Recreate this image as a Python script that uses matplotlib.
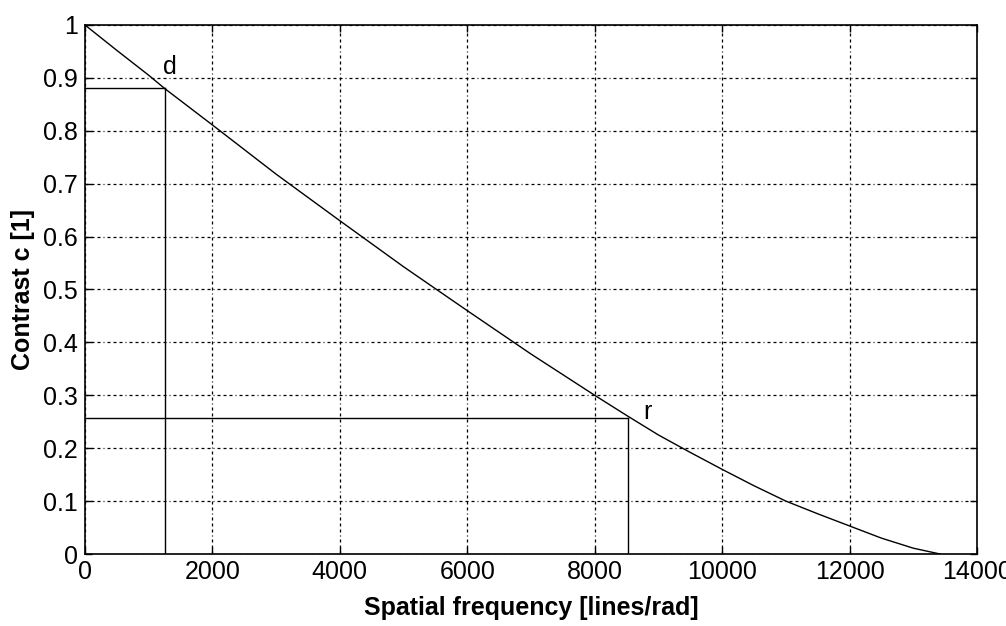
import matplotlib
matplotlib.use("Agg")
import matplotlib.pyplot as plt

# Curve values
freq = [0, 500, 1000, 1250, 2000, 3000, 4000, 5000, 6000, 7000, 8000, 8500,
        9000, 9500, 10000, 10500, 11000, 11500, 12000, 12500, 13000, 13420]
contrast = [1.0, 0.952, 0.905, 0.880, 0.811, 0.718, 0.630, 0.543, 0.460, 0.378,
            0.300, 0.262, 0.225, 0.192, 0.160, 0.129, 0.100, 0.076, 0.053, 0.030,
            0.011, 0.0]

# Marked points
d_point = (1250, 0.88)
r_point = (8530, 0.258)
point_labels = ["d", "r"]

xticks = [0, 2000, 4000, 6000, 8000, 10000, 12000, 14000]
yticks = [0, 0.1, 0.2, 0.3, 0.4, 0.5, 0.6, 0.7, 0.8, 0.9, 1]
ytick_labels = ["0", "0.1", "0.2", "0.3", "0.4", "0.5", "0.6", "0.7", "0.8", "0.9", "1"]

plt.rcParams['font.family'] = ['Liberation Sans', 'DejaVu Sans']

fig = plt.figure(figsize=(10.06, 6.26), dpi=100)
ax = fig.add_axes([85/1006, 1 - 554/626, (977-85)/1006, (554-25)/626])

ax.plot(freq, contrast, color='black', lw=1.0)

for (px, py) in (d_point, r_point):
    ax.plot([0, px], [py, py], color='black', lw=1.0)
    ax.plot([px, px], [0, py], color='black', lw=1.0)

ax.text(d_point[0] - 30, d_point[1] + 0.027, point_labels[0], fontsize=18, va='baseline')
ax.text(r_point[0] + 230, r_point[1] - 0.003, point_labels[1], fontsize=18, va='baseline')

ax.set_xlim(0, 14000)
ax.set_ylim(0, 1)
ax.set_xticks(xticks)
ax.set_xticklabels([str(t) for t in xticks])
ax.set_yticks(yticks)
ax.set_yticklabels(ytick_labels)

ax.grid(True, color='black', lw=0.9,
        linestyle=(0, (2.4, 2.4, 2.4, 2.4, 2.4, 2.4, 0.8, 2.4)))
ax.tick_params(direction='in', length=5, top=True, right=True, labelsize=18,
               pad=5, width=1)
ax.tick_params(axis='x', pad=4)
for s in ax.spines.values():
    s.set_linewidth(1.2)

ax.set_xlabel('Spatial frequency [lines/rad]', fontsize=18, fontweight='bold', labelpad=9)
ax.set_ylabel('Contrast c [1]', fontsize=18, fontweight='bold', labelpad=6)

fig.savefig('out.png', dpi=100)
